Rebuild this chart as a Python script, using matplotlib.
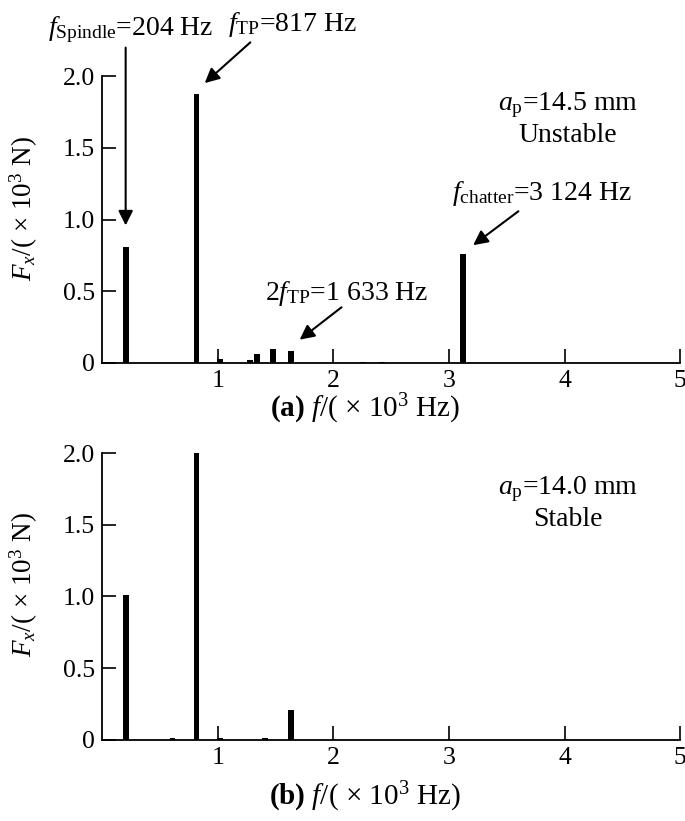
import matplotlib
matplotlib.use('Agg')
import matplotlib.pyplot as plt

plt.rcParams['font.family'] = ['Liberation Serif', 'DejaVu Serif']
plt.rcParams['mathtext.fontset'] = 'custom'
plt.rcParams['mathtext.rm'] = 'Liberation Serif'
plt.rcParams['mathtext.it'] = 'Liberation Serif:italic'
plt.rcParams['mathtext.bf'] = 'Liberation Serif:bold'

# spectrum peaks, frequency in kHz, amplitude in kN
freq_a = [0.204, 0.817, 1.02, 1.28, 1.34, 1.48, 1.633, 2.26, 2.42, 3.124]
amp_a = [0.81, 1.88, 0.025, 0.02, 0.065, 0.095, 0.085, 0.006, 0.006, 0.76]

freq_b = [0.204, 0.61, 0.817, 1.02, 1.41, 1.633]
amp_b = [1.01, 0.012, 2.0, 0.01, 0.012, 0.205]

xticks = [1, 2, 3, 4, 5]
yticks = [0, 0.5, 1.0, 1.5, 2.0]
yticklabels = ['0', '0.5', '1.0', '1.5', '2.0']

fig = plt.figure(figsize=(6.85, 8.21), dpi=100)
ax1 = fig.add_axes([0.149, 0.558, 0.844, 0.349])
ax2 = fig.add_axes([0.149, 0.099, 0.844, 0.349])

fs = 20
for ax, f, a in [(ax1, freq_a, amp_a), (ax2, freq_b, amp_b)]:
    ax.bar(f, a, width=0.05, color='black')
    ax.set_xlim(0, 5)
    ax.set_ylim(0, 2.0)
    ax.spines['top'].set_visible(False)
    ax.spines['right'].set_visible(False)
    ax.spines['left'].set_linewidth(1.3)
    ax.spines['bottom'].set_linewidth(1.3)
    ax.set_xticks(xticks)
    ax.set_yticks(yticks)
    ax.set_yticklabels(yticklabels)
    ax.tick_params(direction='in', length=10, width=1.2, labelsize=18.5, pad=5)
    ax.set_ylabel(r'$F_x$/( $\times$ 10$^3$ N)', fontsize=19.5)
    ax.yaxis.set_label_coords(-0.108, 0.54)

ax1.set_xlabel(r'$\mathbf{(a)}$ $f$/( $\times$ 10$^3$ Hz)', fontsize=21, labelpad=0)
ax2.set_xlabel(r'$\mathbf{(b)}$ $f$/( $\times$ 10$^3$ Hz)', fontsize=21, labelpad=8)
for ax in (ax1, ax2):
    ax.xaxis.label.set_x(0.455)

arrow = dict(arrowstyle='-|>', color='black', lw=1.5, mutation_scale=22)
ax1.text(-0.47, 2.29, r'$f_{\mathrm{Spindle}}$=204 Hz', fontsize=fs, ha='left', va='baseline')
ax1.annotate('', xy=(0.204, 0.94), xytext=(0.204, 2.22), arrowprops=arrow, annotation_clip=False)
ax1.text(1.09, 2.32, r'$f_{\mathrm{TP}}$=817 Hz', fontsize=fs, ha='left', va='baseline')
ax1.annotate('', xy=(0.87, 1.94), xytext=(1.3, 2.25), arrowprops=arrow, annotation_clip=False)
ax1.text(1.41, 0.44, r'2$f_{\mathrm{TP}}$=1 633 Hz', fontsize=fs, ha='left', va='baseline')
ax1.annotate('', xy=(1.69, 0.15), xytext=(2.09, 0.40), arrowprops=arrow)
ax1.text(3.03, 1.14, r'$f_{\mathrm{chatter}}$=3 124 Hz', fontsize=fs, ha='left', va='baseline')
ax1.annotate('', xy=(3.19, 0.81), xytext=(3.62, 1.07), arrowprops=arrow)

ax1.text(4.03, 1.70, r'$a_{\mathrm{p}}$=14.5 mm' + '\nUnstable', ha='center', va='center',
         fontsize=fs, linespacing=1.15)
ax2.text(4.03, 1.65, r'$a_{\mathrm{p}}$=14.0 mm' + '\nStable', ha='center', va='center',
         fontsize=fs, linespacing=1.15)

fig.savefig('out.png', dpi=100)
